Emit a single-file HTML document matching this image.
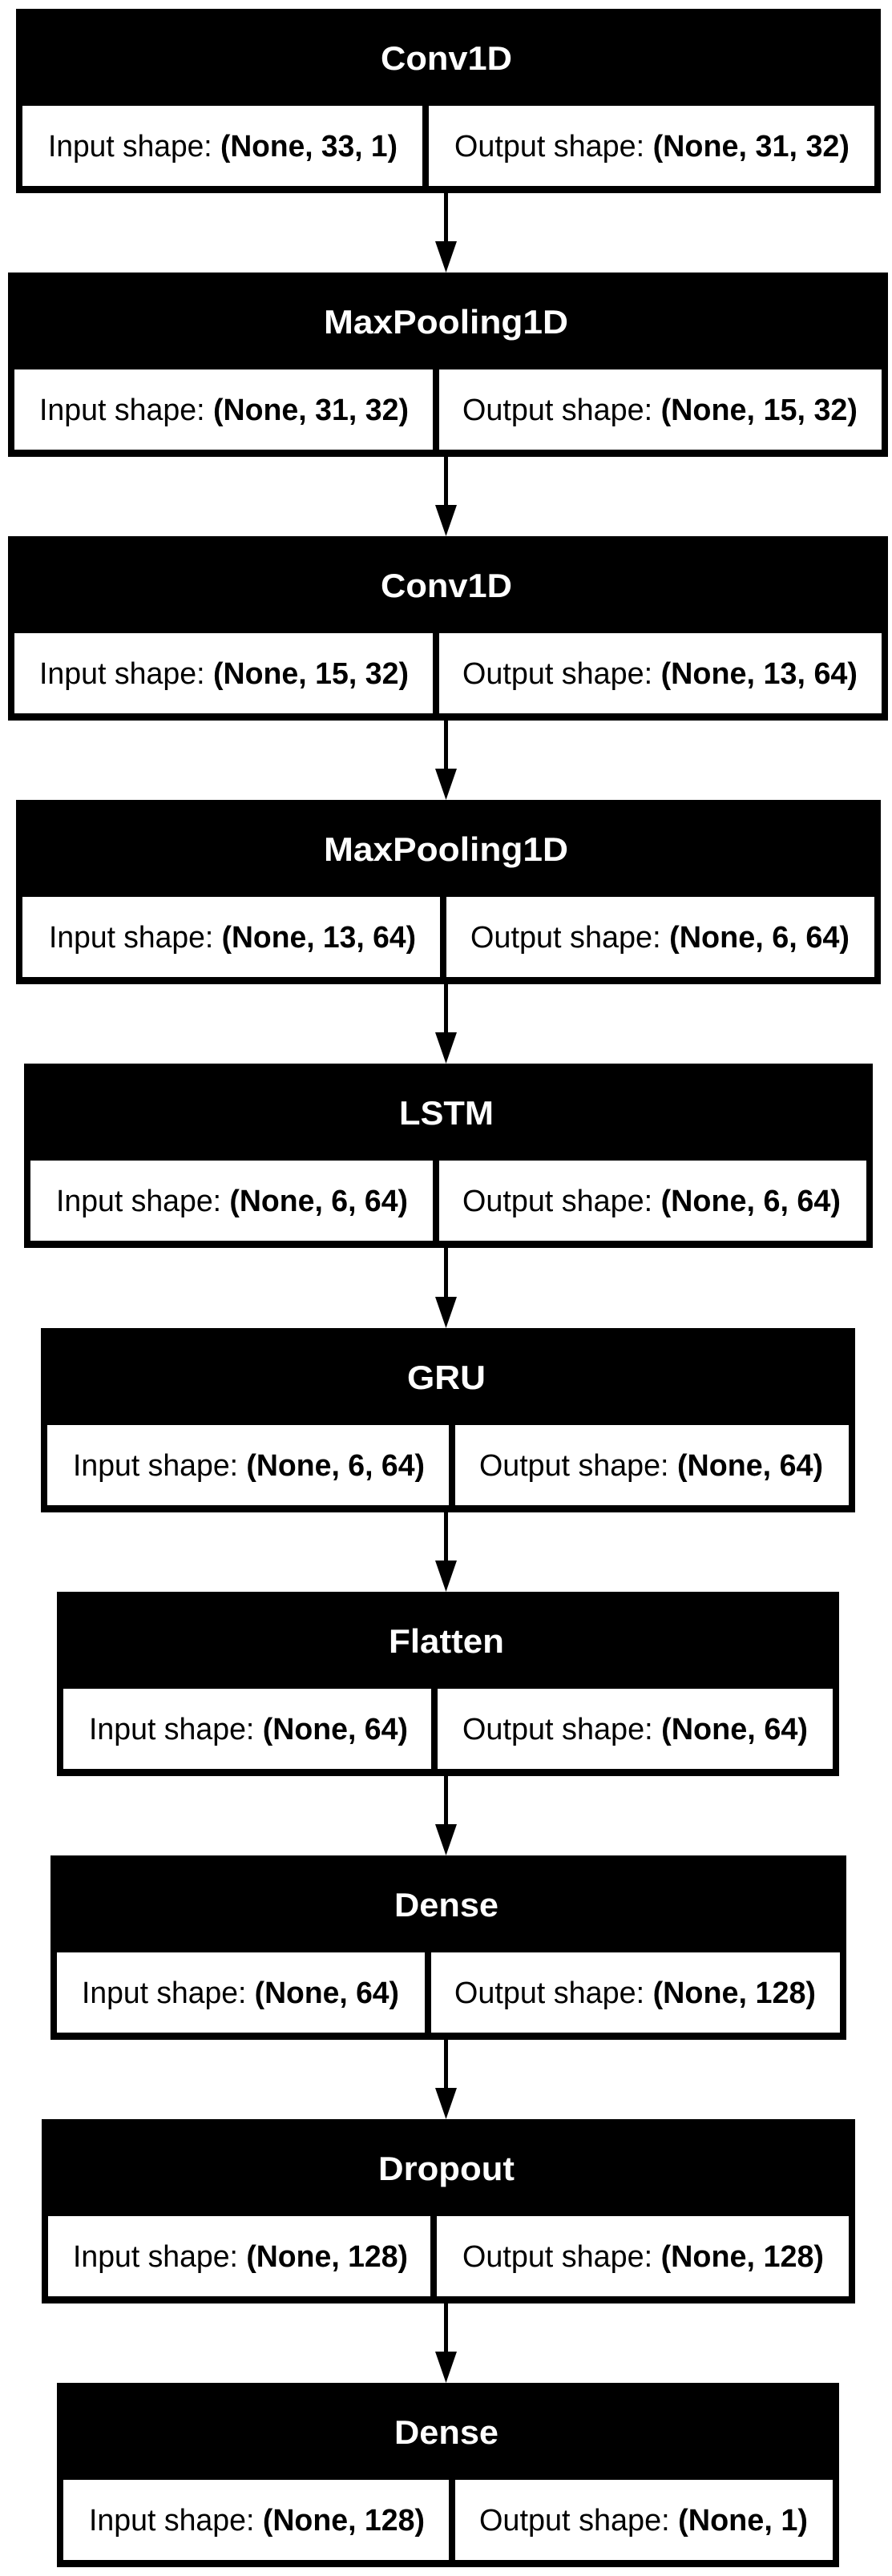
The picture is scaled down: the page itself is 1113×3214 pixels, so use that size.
<!DOCTYPE html>
<html><head><meta charset="utf-8"><style>
html,body{margin:0;padding:0;background:#fff;}
svg{display:block;}
.t{font-family:"Liberation Sans",sans-serif;font-weight:bold;font-size:42px;fill:#fff;}
.c{font-family:"Liberation Sans",sans-serif;font-size:38px;fill:#000;}
.b{font-weight:bold;}
</style></head><body>
<svg width="1113" height="3214" viewBox="0 0 1113 3214" xmlns="http://www.w3.org/2000/svg">
<rect width="1113" height="3214" fill="#fff"/>

<!-- Node 1 -->
<rect x="20" y="11" width="1079" height="230" fill="#000"/>
<rect x="28" y="132" width="499" height="100" fill="#fff"/>
<rect x="535" y="132" width="556" height="100" fill="#fff"/>
<text class="t" x="475" y="87" textLength="164" lengthAdjust="spacingAndGlyphs">Conv1D</text>
<text class="c" x="60" y="195" textLength="436" lengthAdjust="spacingAndGlyphs">Input shape: <tspan class="b">(None, 33, 1)</tspan></text>
<text class="c" x="567" y="195" textLength="493" lengthAdjust="spacingAndGlyphs">Output shape: <tspan class="b">(None, 31, 32)</tspan></text>
<line x1="556.5" y1="241" x2="556.5" y2="302" stroke="#000" stroke-width="5"/>
<polygon points="543,301 570,301 556.5,340" fill="#000"/>

<!-- Node 2 -->
<rect x="10" y="340" width="1098" height="230" fill="#000"/>
<rect x="18" y="461" width="522" height="100" fill="#fff"/>
<rect x="548" y="461" width="552" height="100" fill="#fff"/>
<text class="t" x="404" y="416" textLength="305" lengthAdjust="spacingAndGlyphs">MaxPooling1D</text>
<text class="c" x="49" y="524" textLength="461" lengthAdjust="spacingAndGlyphs">Input shape: <tspan class="b">(None, 31, 32)</tspan></text>
<text class="c" x="577" y="524" textLength="493" lengthAdjust="spacingAndGlyphs">Output shape: <tspan class="b">(None, 15, 32)</tspan></text>
<line x1="556.5" y1="570" x2="556.5" y2="631" stroke="#000" stroke-width="5"/>
<polygon points="543,630 570,630 556.5,669" fill="#000"/>

<!-- Node 3 -->
<rect x="10" y="669" width="1098" height="230" fill="#000"/>
<rect x="18" y="790" width="522" height="100" fill="#fff"/>
<rect x="548" y="790" width="552" height="100" fill="#fff"/>
<text class="t" x="475" y="745" textLength="164" lengthAdjust="spacingAndGlyphs">Conv1D</text>
<text class="c" x="49" y="853" textLength="461" lengthAdjust="spacingAndGlyphs">Input shape: <tspan class="b">(None, 15, 32)</tspan></text>
<text class="c" x="577" y="853" textLength="493" lengthAdjust="spacingAndGlyphs">Output shape: <tspan class="b">(None, 13, 64)</tspan></text>
<line x1="556.5" y1="899" x2="556.5" y2="960" stroke="#000" stroke-width="5"/>
<polygon points="543,959 570,959 556.5,998" fill="#000"/>

<!-- Node 4 -->
<rect x="20" y="998" width="1079" height="230" fill="#000"/>
<rect x="28" y="1119" width="521" height="100" fill="#fff"/>
<rect x="557" y="1119" width="534" height="100" fill="#fff"/>
<text class="t" x="404" y="1074" textLength="305" lengthAdjust="spacingAndGlyphs">MaxPooling1D</text>
<text class="c" x="61" y="1182" textLength="458" lengthAdjust="spacingAndGlyphs">Input shape: <tspan class="b">(None, 13, 64)</tspan></text>
<text class="c" x="587" y="1182" textLength="473" lengthAdjust="spacingAndGlyphs">Output shape: <tspan class="b">(None, 6, 64)</tspan></text>
<line x1="556.5" y1="1228" x2="556.5" y2="1289" stroke="#000" stroke-width="5"/>
<polygon points="543,1288 570,1288 556.5,1327" fill="#000"/>

<!-- Node 5 -->
<rect x="30" y="1327" width="1059" height="230" fill="#000"/>
<rect x="38" y="1448" width="502" height="100" fill="#fff"/>
<rect x="548" y="1448" width="533" height="100" fill="#fff"/>
<text class="t" x="498" y="1403" textLength="118" lengthAdjust="spacingAndGlyphs">LSTM</text>
<text class="c" x="70" y="1511" textLength="439" lengthAdjust="spacingAndGlyphs">Input shape: <tspan class="b">(None, 6, 64)</tspan></text>
<text class="c" x="577" y="1511" textLength="472" lengthAdjust="spacingAndGlyphs">Output shape: <tspan class="b">(None, 6, 64)</tspan></text>
<line x1="556.5" y1="1557" x2="556.5" y2="1619" stroke="#000" stroke-width="5"/>
<polygon points="543,1618 570,1618 556.5,1657" fill="#000"/>

<!-- Node 6 -->
<rect x="51" y="1657" width="1016" height="230" fill="#000"/>
<rect x="59" y="1778" width="501" height="100" fill="#fff"/>
<rect x="568" y="1778" width="491" height="100" fill="#fff"/>
<text class="t" x="508" y="1733" textLength="98" lengthAdjust="spacingAndGlyphs">GRU</text>
<text class="c" x="91" y="1841" textLength="439" lengthAdjust="spacingAndGlyphs">Input shape: <tspan class="b">(None, 6, 64)</tspan></text>
<text class="c" x="598" y="1841" textLength="429" lengthAdjust="spacingAndGlyphs">Output shape: <tspan class="b">(None, 64)</tspan></text>
<line x1="556.5" y1="1887" x2="556.5" y2="1948" stroke="#000" stroke-width="5"/>
<polygon points="543,1947 570,1947 556.5,1986" fill="#000"/>

<!-- Node 7 -->
<rect x="71" y="1986" width="976" height="230" fill="#000"/>
<rect x="79" y="2107" width="459" height="100" fill="#fff"/>
<rect x="546" y="2107" width="493" height="100" fill="#fff"/>
<text class="t" x="485" y="2062" textLength="144" lengthAdjust="spacingAndGlyphs">Flatten</text>
<text class="c" x="111" y="2170" textLength="398" lengthAdjust="spacingAndGlyphs">Input shape: <tspan class="b">(None, 64)</tspan></text>
<text class="c" x="577" y="2170" textLength="431" lengthAdjust="spacingAndGlyphs">Output shape: <tspan class="b">(None, 64)</tspan></text>
<line x1="556.5" y1="2216" x2="556.5" y2="2277" stroke="#000" stroke-width="5"/>
<polygon points="543,2276 570,2276 556.5,2315" fill="#000"/>

<!-- Node 8 -->
<rect x="63" y="2315" width="993" height="230" fill="#000"/>
<rect x="71" y="2436" width="459" height="100" fill="#fff"/>
<rect x="538" y="2436" width="510" height="100" fill="#fff"/>
<text class="t" x="492" y="2391" textLength="130" lengthAdjust="spacingAndGlyphs">Dense</text>
<text class="c" x="102" y="2499" textLength="396" lengthAdjust="spacingAndGlyphs">Input shape: <tspan class="b">(None, 64)</tspan></text>
<text class="c" x="567" y="2499" textLength="451" lengthAdjust="spacingAndGlyphs">Output shape: <tspan class="b">(None, 128)</tspan></text>
<line x1="556.5" y1="2545" x2="556.5" y2="2606" stroke="#000" stroke-width="5"/>
<polygon points="543,2605 570,2605 556.5,2644" fill="#000"/>

<!-- Node 9 -->
<rect x="52" y="2644" width="1015" height="230" fill="#000"/>
<rect x="60" y="2765" width="477" height="100" fill="#fff"/>
<rect x="545" y="2765" width="514" height="100" fill="#fff"/>
<text class="t" x="472" y="2720" textLength="170" lengthAdjust="spacingAndGlyphs">Dropout</text>
<text class="c" x="91" y="2828" textLength="418" lengthAdjust="spacingAndGlyphs">Input shape: <tspan class="b">(None, 128)</tspan></text>
<text class="c" x="577" y="2828" textLength="451" lengthAdjust="spacingAndGlyphs">Output shape: <tspan class="b">(None, 128)</tspan></text>
<line x1="556.5" y1="2874" x2="556.5" y2="2935" stroke="#000" stroke-width="5"/>
<polygon points="543,2934 570,2934 556.5,2973" fill="#000"/>

<!-- Node 10 -->
<rect x="71" y="2973" width="976" height="230" fill="#000"/>
<rect x="79" y="3094" width="481" height="100" fill="#fff"/>
<rect x="568" y="3094" width="471" height="100" fill="#fff"/>
<text class="t" x="492" y="3049" textLength="130" lengthAdjust="spacingAndGlyphs">Dense</text>
<text class="c" x="111" y="3157" textLength="419" lengthAdjust="spacingAndGlyphs">Input shape: <tspan class="b">(None, 128)</tspan></text>
<text class="c" x="598" y="3157" textLength="410" lengthAdjust="spacingAndGlyphs">Output shape: <tspan class="b">(None, 1)</tspan></text>
</svg>
</body></html>
